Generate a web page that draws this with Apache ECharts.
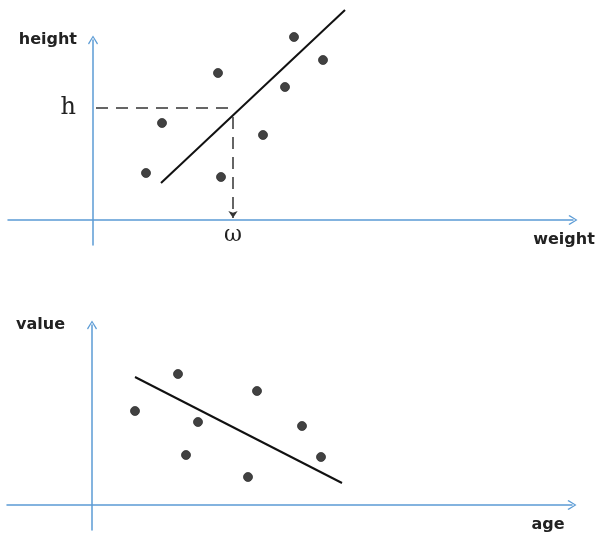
<!DOCTYPE html>
<html>
<head>
<meta charset="utf-8">
<script src="https://cdn.jsdelivr.net/npm/echarts@6/dist/echarts.min.js"></script>
<style>
  html, body { margin: 0; padding: 0; background: #fff; }
  #chart { width: 596px; height: 535px; }
</style>
</head>
<body>
<div id="chart"></div>
<script>
// top sketch: weight vs height
const hwPoints = [[10.6, 9.4], [13.8, 19.4], [25, 29.4], [25.6, 8.6], [34, 17], [38.4, 26.6], [40.2, 36.6], [46, 32]]
const hwFit = [[13.6, 7.4], [50.4, 42]]
const guideW = 28
const guideH = 22.4

// bottom sketch: age vs value
const avPoints = [[17.2, 26.2], [8.6, 18.8], [21.2, 16.6], [33, 22.8], [18.8, 10], [31.2, 5.6], [42, 15.8], [45.8, 9.6]]
const avFit = [[8.6, 25.6], [50, 4.4]]

const axisBlue = '#5b9bd5'
const chevron = 'path://M5,0 L10,8 L9,9 L5,2 L1,9 L0,8 Z'

const baseAxisLine = {
  show: true,
  onZero: true,
  symbol: ['none', chevron],
  symbolSize: [14, 9],
  lineStyle: { color: axisBlue, width: 1.5 },
}

const nameFont = {
  fontFamily: 'DejaVu Sans',
  fontWeight: 'bold',
  fontSize: 16,
  color: '#222',
}

const xAx = (grid, name, gap, extra) => Object.assign({
  type: 'value',
  gridIndex: grid,
  min: -17,
  max: 96,
  name: name,
  nameLocation: 'end',
  nameGap: gap,
  nameTextStyle: Object.assign({
    align: 'center',
    verticalAlign: 'top',
    padding: [12, 0, 0, 0],
  }, nameFont),
  axisLine: baseAxisLine,
  axisTick: { show: false },
  splitLine: { show: false },
  axisLabel: { show: false },
}, extra || {})

const yAx = (grid, name, padRight, extra) => Object.assign({
  type: 'value',
  gridIndex: grid,
  min: -5,
  max: 36,
  name: name,
  nameLocation: 'end',
  nameGap: 0,
  nameTextStyle: Object.assign({
    align: 'right',
    verticalAlign: 'middle',
    padding: [0, padRight, 0, 0],
  }, nameFont),
  axisLine: baseAxisLine,
  axisTick: { show: false },
  splitLine: { show: false },
  axisLabel: { show: false },
}, extra || {})

const dotStyle = { color: '#111', borderColor: '#333', borderWidth: 1 }
const fitStyle = { color: '#111', width: 2 }

const chart = echarts.init(document.getElementById('chart'))
chart.setOption({
  backgroundColor: '#fff',
  animation: false,
  grid: [
    { left: 8, right: 23, top: 40, bottom: 290, containLabel: false, outerBoundsMode: 'none' },
    { left: 7, right: 24, top: 325, bottom: 5, containLabel: false, outerBoundsMode: 'none' },
  ],
  xAxis: [
    xAx(0, 'weight', -9, {
      axisLabel: {
        show: true,
        customValues: [guideW],
        formatter: () => 'ω',
        fontFamily: 'DejaVu Serif',
        fontSize: 22,
        color: '#222',
        verticalAlign: 'middle',
        margin: -10,
      },
    }),
    xAx(1, 'age', -24),
  ],
  yAxis: [
    yAx(0, 'height', 16, {
      axisLabel: {
        show: true,
        customValues: [guideH],
        formatter: () => 'h',
        fontFamily: 'DejaVu Serif',
        fontSize: 24,
        color: '#222',
        align: 'right',
        verticalAlign: 'middle',
        margin: -68,
      },
    }),
    yAx(1, 'value', 27),
  ],
  series: [
    {
      type: 'scatter',
      xAxisIndex: 0,
      yAxisIndex: 0,
      clip: false,
      symbolSize: 9,
      itemStyle: dotStyle,
      data: hwPoints,
    },
    {
      type: 'line',
      xAxisIndex: 0,
      yAxisIndex: 0,
      clip: false,
      symbol: 'none',
      lineStyle: fitStyle,
      data: hwFit,
    },
    {
      type: 'line',
      xAxisIndex: 0,
      yAxisIndex: 0,
      symbol: 'none',
      lineStyle: { color: '#333', width: 1.5, type: [12, 8] },
      data: [[0.6, guideH], [guideW, guideH]],
      markLine: {
        silent: true,
        symbol: ['none', 'arrow'],
        symbolSize: 7,
        label: { show: false },
        lineStyle: { color: '#333', width: 1.5, type: [12, 8] },
        data: [[{ coord: [guideW, guideH - 1.8] }, { coord: [guideW, 0.4] }]],
      },
    },
    {
      type: 'scatter',
      xAxisIndex: 1,
      yAxisIndex: 1,
      clip: false,
      symbolSize: 9,
      itemStyle: dotStyle,
      data: avPoints,
    },
    {
      type: 'line',
      xAxisIndex: 1,
      yAxisIndex: 1,
      clip: false,
      symbol: 'none',
      lineStyle: fitStyle,
      data: avFit,
    },
  ],
})
</script>
</body>
</html>
